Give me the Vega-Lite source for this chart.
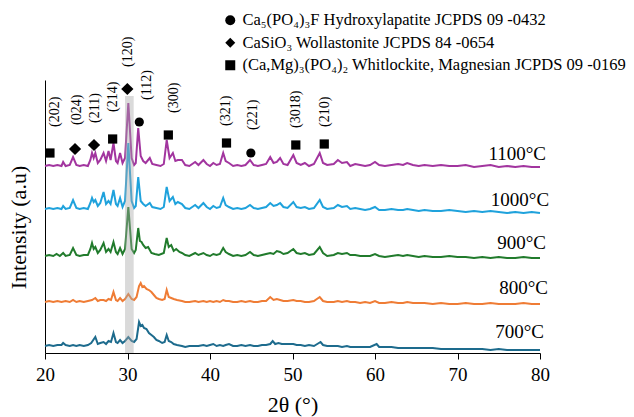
{
"$schema":"https://vega.github.io/schema/vega-lite/v6.json",
"width":495,"height":273,
"autosize":{"type":"none"},
"padding":{"left":45,"top":80,"right":94,"bottom":64},
"background":"white",
"config":{"view":{"stroke":null},"axis":{"grid":false}},
"datasets":{
"xrd":[
{"s":"1100","x":20.0,"y":187},{"s":"1100","x":20.5,"y":188},{"s":"1100","x":21.0,"y":187},{"s":"1100","x":21.5,"y":188},{"s":"1100","x":22.0,"y":187},{"s":"1100","x":22.2,"y":191},{"s":"1100","x":22.5,"y":187},{"s":"1100","x":23.0,"y":188},{"s":"1100","x":23.4,"y":196},{"s":"1100","x":23.8,"y":188},{"s":"1100","x":24.2,"y":187},{"s":"1100","x":24.7,"y":188},{"s":"1100","x":25.2,"y":187},{"s":"1100","x":25.5,"y":193},{"s":"1100","x":25.7,"y":200},{"s":"1100","x":25.9,"y":195},{"s":"1100","x":26.1,"y":200},{"s":"1100","x":26.4,"y":190},{"s":"1100","x":26.7,"y":193},{"s":"1100","x":27.1,"y":200},{"s":"1100","x":27.4,"y":192},{"s":"1100","x":27.7,"y":202},{"s":"1100","x":27.95,"y":193},{"s":"1100","x":28.3,"y":210},{"s":"1100","x":28.6,"y":192},{"s":"1100","x":28.8,"y":190},{"s":"1100","x":29.1,"y":200},{"s":"1100","x":29.4,"y":190},{"s":"1100","x":29.7,"y":195},{"s":"1100","x":30.1,"y":250},{"s":"1100","x":30.5,"y":195},{"s":"1100","x":30.8,"y":188},{"s":"1100","x":31.0,"y":190},{"s":"1100","x":31.3,"y":225},{"s":"1100","x":31.6,"y":197},{"s":"1100","x":31.9,"y":192},{"s":"1100","x":32.2,"y":190},{"s":"1100","x":32.7,"y":195},{"s":"1100","x":33.0,"y":189},{"s":"1100","x":33.5,"y":188},{"s":"1100","x":34.0,"y":187},{"s":"1100","x":34.4,"y":189},{"s":"1100","x":34.75,"y":213},{"s":"1100","x":35.1,"y":195},{"s":"1100","x":35.5,"y":200},{"s":"1100","x":35.8,"y":192},{"s":"1100","x":36.1,"y":193},{"s":"1100","x":36.6,"y":193},{"s":"1100","x":37.0,"y":188},{"s":"1100","x":37.5,"y":187},{"s":"1100","x":38.2,"y":191},{"s":"1100","x":38.6,"y":188},{"s":"1100","x":39.2,"y":193},{"s":"1100","x":39.6,"y":189},{"s":"1100","x":40.0,"y":187},{"s":"1100","x":40.4,"y":190},{"s":"1100","x":40.8,"y":188},{"s":"1100","x":41.2,"y":189},{"s":"1100","x":41.6,"y":200},{"s":"1100","x":41.9,"y":192},{"s":"1100","x":42.3,"y":190},{"s":"1100","x":42.8,"y":187},{"s":"1100","x":43.3,"y":188},{"s":"1100","x":43.8,"y":187},{"s":"1100","x":44.3,"y":188},{"s":"1100","x":44.85,"y":193},{"s":"1100","x":45.3,"y":188},{"s":"1100","x":45.8,"y":187},{"s":"1100","x":46.3,"y":188},{"s":"1100","x":46.8,"y":189},{"s":"1100","x":47.3,"y":196},{"s":"1100","x":47.7,"y":190},{"s":"1100","x":48.1,"y":191},{"s":"1100","x":48.5,"y":195},{"s":"1100","x":48.9,"y":189},{"s":"1100","x":49.4,"y":188},{"s":"1100","x":50.1,"y":198},{"s":"1100","x":50.5,"y":190},{"s":"1100","x":51.0,"y":188},{"s":"1100","x":51.5,"y":190},{"s":"1100","x":52.0,"y":187},{"s":"1100","x":52.6,"y":189},{"s":"1100","x":53.3,"y":200},{"s":"1100","x":53.7,"y":190},{"s":"1100","x":54.2,"y":188},{"s":"1100","x":55.0,"y":189},{"s":"1100","x":55.5,"y":193},{"s":"1100","x":56.0,"y":190},{"s":"1100","x":56.6,"y":191},{"s":"1100","x":57.0,"y":187},{"s":"1100","x":57.6,"y":189},{"s":"1100","x":58.2,"y":188},{"s":"1100","x":58.8,"y":187},{"s":"1100","x":59.4,"y":188},{"s":"1100","x":60.0,"y":191},{"s":"1100","x":60.5,"y":188},{"s":"1100","x":61.2,"y":187},{"s":"1100","x":62.0,"y":188},{"s":"1100","x":62.8,"y":189},{"s":"1100","x":63.4,"y":188},{"s":"1100","x":63.9,"y":190},{"s":"1100","x":64.6,"y":188},{"s":"1100","x":65.3,"y":187},{"s":"1100","x":66.0,"y":188},{"s":"1100","x":67.0,"y":187},{"s":"1100","x":68.0,"y":188},{"s":"1100","x":69.0,"y":187},{"s":"1100","x":70.0,"y":187},{"s":"1100","x":71.0,"y":188},{"s":"1100","x":72.0,"y":186},{"s":"1100","x":73.0,"y":187},{"s":"1100","x":74.0,"y":188},{"s":"1100","x":75.0,"y":186},{"s":"1100","x":76.0,"y":187},{"s":"1100","x":77.0,"y":186},{"s":"1100","x":78.0,"y":187},{"s":"1100","x":79.0,"y":186},{"s":"1100","x":80.0,"y":186},
{"s":"1000","x":20.0,"y":144},{"s":"1000","x":20.5,"y":145},{"s":"1000","x":21.0,"y":144},{"s":"1000","x":21.5,"y":145},{"s":"1000","x":22.0,"y":144},{"s":"1000","x":22.2,"y":147},{"s":"1000","x":22.5,"y":144},{"s":"1000","x":23.0,"y":145},{"s":"1000","x":23.4,"y":153},{"s":"1000","x":23.8,"y":145},{"s":"1000","x":24.2,"y":144},{"s":"1000","x":24.7,"y":145},{"s":"1000","x":25.2,"y":144},{"s":"1000","x":25.5,"y":150},{"s":"1000","x":25.7,"y":155},{"s":"1000","x":25.9,"y":151},{"s":"1000","x":26.1,"y":153},{"s":"1000","x":26.4,"y":147},{"s":"1000","x":26.7,"y":150},{"s":"1000","x":27.1,"y":161},{"s":"1000","x":27.4,"y":149},{"s":"1000","x":27.7,"y":152},{"s":"1000","x":27.95,"y":149},{"s":"1000","x":28.3,"y":163},{"s":"1000","x":28.6,"y":149},{"s":"1000","x":28.8,"y":147},{"s":"1000","x":29.1,"y":155},{"s":"1000","x":29.4,"y":146},{"s":"1000","x":29.7,"y":152},{"s":"1000","x":30.1,"y":210},{"s":"1000","x":30.5,"y":152},{"s":"1000","x":30.8,"y":145},{"s":"1000","x":31.0,"y":147},{"s":"1000","x":31.3,"y":176},{"s":"1000","x":31.6,"y":152},{"s":"1000","x":31.9,"y":149},{"s":"1000","x":32.2,"y":147},{"s":"1000","x":32.7,"y":150},{"s":"1000","x":33.0,"y":146},{"s":"1000","x":33.5,"y":145},{"s":"1000","x":34.0,"y":144},{"s":"1000","x":34.4,"y":146},{"s":"1000","x":34.75,"y":166},{"s":"1000","x":35.1,"y":152},{"s":"1000","x":35.5,"y":156},{"s":"1000","x":35.8,"y":149},{"s":"1000","x":36.1,"y":151},{"s":"1000","x":36.6,"y":149},{"s":"1000","x":37.0,"y":145},{"s":"1000","x":37.5,"y":144},{"s":"1000","x":38.2,"y":148},{"s":"1000","x":38.6,"y":145},{"s":"1000","x":39.2,"y":150},{"s":"1000","x":39.6,"y":146},{"s":"1000","x":40.0,"y":144},{"s":"1000","x":40.4,"y":147},{"s":"1000","x":40.8,"y":145},{"s":"1000","x":41.2,"y":146},{"s":"1000","x":41.6,"y":155},{"s":"1000","x":41.9,"y":148},{"s":"1000","x":42.3,"y":146},{"s":"1000","x":42.8,"y":144},{"s":"1000","x":43.3,"y":145},{"s":"1000","x":43.8,"y":144},{"s":"1000","x":44.3,"y":145},{"s":"1000","x":44.85,"y":148},{"s":"1000","x":45.3,"y":145},{"s":"1000","x":45.8,"y":144},{"s":"1000","x":46.3,"y":145},{"s":"1000","x":46.8,"y":146},{"s":"1000","x":47.3,"y":150},{"s":"1000","x":47.7,"y":147},{"s":"1000","x":48.1,"y":148},{"s":"1000","x":48.5,"y":150},{"s":"1000","x":48.9,"y":146},{"s":"1000","x":49.4,"y":145},{"s":"1000","x":50.1,"y":151},{"s":"1000","x":50.5,"y":146},{"s":"1000","x":51.0,"y":145},{"s":"1000","x":51.5,"y":146},{"s":"1000","x":52.0,"y":144},{"s":"1000","x":52.6,"y":145},{"s":"1000","x":53.3,"y":153},{"s":"1000","x":53.7,"y":146},{"s":"1000","x":54.2,"y":144},{"s":"1000","x":55.0,"y":145},{"s":"1000","x":55.5,"y":148},{"s":"1000","x":56.0,"y":146},{"s":"1000","x":56.6,"y":147},{"s":"1000","x":57.0,"y":144},{"s":"1000","x":57.6,"y":145},{"s":"1000","x":58.2,"y":144},{"s":"1000","x":58.8,"y":143},{"s":"1000","x":59.4,"y":144},{"s":"1000","x":60.0,"y":146},{"s":"1000","x":60.5,"y":143},{"s":"1000","x":61.2,"y":143},{"s":"1000","x":62.0,"y":144},{"s":"1000","x":62.8,"y":143},{"s":"1000","x":63.4,"y":143},{"s":"1000","x":63.9,"y":144},{"s":"1000","x":64.6,"y":143},{"s":"1000","x":65.3,"y":142},{"s":"1000","x":66.0,"y":143},{"s":"1000","x":67.0,"y":142},{"s":"1000","x":68.0,"y":142},{"s":"1000","x":69.0,"y":143},{"s":"1000","x":70.0,"y":142},{"s":"1000","x":71.0,"y":141},{"s":"1000","x":72.0,"y":142},{"s":"1000","x":73.0,"y":141},{"s":"1000","x":74.0,"y":142},{"s":"1000","x":75.0,"y":141},{"s":"1000","x":76.0,"y":140},{"s":"1000","x":77.0,"y":141},{"s":"1000","x":78.0,"y":140},{"s":"1000","x":79.0,"y":141},{"s":"1000","x":80.0,"y":140},
{"s":"900","x":20.0,"y":97},{"s":"900","x":20.5,"y":98},{"s":"900","x":21.0,"y":97},{"s":"900","x":21.4,"y":99},{"s":"900","x":21.8,"y":97},{"s":"900","x":22.2,"y":100},{"s":"900","x":22.5,"y":97},{"s":"900","x":23.0,"y":98},{"s":"900","x":23.4,"y":105},{"s":"900","x":23.8,"y":98},{"s":"900","x":24.2,"y":97},{"s":"900","x":24.7,"y":98},{"s":"900","x":25.2,"y":98},{"s":"900","x":25.5,"y":104},{"s":"900","x":25.7,"y":110},{"s":"900","x":25.9,"y":104},{"s":"900","x":26.1,"y":106},{"s":"900","x":26.4,"y":100},{"s":"900","x":26.7,"y":103},{"s":"900","x":27.1,"y":110},{"s":"900","x":27.4,"y":101},{"s":"900","x":27.7,"y":104},{"s":"900","x":27.95,"y":101},{"s":"900","x":28.3,"y":111},{"s":"900","x":28.6,"y":101},{"s":"900","x":28.8,"y":99},{"s":"900","x":29.1,"y":105},{"s":"900","x":29.4,"y":99},{"s":"900","x":29.7,"y":104},{"s":"900","x":30.1,"y":146},{"s":"900","x":30.5,"y":104},{"s":"900","x":30.8,"y":100},{"s":"900","x":31.0,"y":103},{"s":"900","x":31.3,"y":125},{"s":"900","x":31.5,"y":112},{"s":"900","x":31.7,"y":111},{"s":"900","x":31.9,"y":108},{"s":"900","x":32.2,"y":105},{"s":"900","x":32.5,"y":106},{"s":"900","x":32.9,"y":100},{"s":"900","x":33.3,"y":99},{"s":"900","x":33.8,"y":98},{"s":"900","x":34.4,"y":100},{"s":"900","x":34.75,"y":115},{"s":"900","x":35.0,"y":106},{"s":"900","x":35.3,"y":108},{"s":"900","x":35.6,"y":102},{"s":"900","x":35.9,"y":104},{"s":"900","x":36.3,"y":101},{"s":"900","x":36.6,"y":100},{"s":"900","x":37.0,"y":98},{"s":"900","x":37.5,"y":97},{"s":"900","x":38.2,"y":100},{"s":"900","x":38.6,"y":98},{"s":"900","x":39.2,"y":100},{"s":"900","x":39.6,"y":98},{"s":"900","x":40.0,"y":97},{"s":"900","x":40.4,"y":99},{"s":"900","x":40.8,"y":98},{"s":"900","x":41.2,"y":99},{"s":"900","x":41.6,"y":105},{"s":"900","x":41.9,"y":101},{"s":"900","x":42.3,"y":99},{"s":"900","x":42.8,"y":97},{"s":"900","x":43.3,"y":98},{"s":"900","x":43.8,"y":97},{"s":"900","x":44.3,"y":98},{"s":"900","x":44.85,"y":101},{"s":"900","x":45.3,"y":98},{"s":"900","x":45.8,"y":97},{"s":"900","x":46.3,"y":98},{"s":"900","x":46.8,"y":99},{"s":"900","x":47.3,"y":100},{"s":"900","x":47.7,"y":99},{"s":"900","x":48.1,"y":102},{"s":"900","x":48.5,"y":101},{"s":"900","x":48.9,"y":99},{"s":"900","x":49.4,"y":100},{"s":"900","x":50.1,"y":104},{"s":"900","x":50.5,"y":100},{"s":"900","x":51.0,"y":99},{"s":"900","x":51.5,"y":100},{"s":"900","x":52.0,"y":98},{"s":"900","x":52.6,"y":99},{"s":"900","x":53.3,"y":106},{"s":"900","x":53.7,"y":100},{"s":"900","x":54.2,"y":97},{"s":"900","x":55.0,"y":98},{"s":"900","x":55.5,"y":100},{"s":"900","x":56.0,"y":99},{"s":"900","x":56.6,"y":100},{"s":"900","x":57.0,"y":98},{"s":"900","x":57.6,"y":98},{"s":"900","x":58.2,"y":97},{"s":"900","x":58.8,"y":97},{"s":"900","x":59.4,"y":97},{"s":"900","x":60.0,"y":99},{"s":"900","x":60.5,"y":97},{"s":"900","x":61.2,"y":96},{"s":"900","x":62.0,"y":97},{"s":"900","x":62.8,"y":98},{"s":"900","x":63.4,"y":97},{"s":"900","x":63.9,"y":98},{"s":"900","x":64.6,"y":97},{"s":"900","x":65.3,"y":96},{"s":"900","x":66.0,"y":97},{"s":"900","x":67.0,"y":96},{"s":"900","x":68.0,"y":96},{"s":"900","x":69.0,"y":97},{"s":"900","x":70.0,"y":96},{"s":"900","x":71.0,"y":96},{"s":"900","x":72.0,"y":95},{"s":"900","x":73.0,"y":96},{"s":"900","x":74.0,"y":95},{"s":"900","x":75.0,"y":96},{"s":"900","x":76.0,"y":95},{"s":"900","x":77.0,"y":95},{"s":"900","x":78.0,"y":96},{"s":"900","x":79.0,"y":95},{"s":"900","x":80.0,"y":95},
{"s":"800","x":20.0,"y":51},{"s":"800","x":20.5,"y":52},{"s":"800","x":21.0,"y":51},{"s":"800","x":21.5,"y":52},{"s":"800","x":22.0,"y":51},{"s":"800","x":22.5,"y":52},{"s":"800","x":23.0,"y":51},{"s":"800","x":23.4,"y":53},{"s":"800","x":23.8,"y":51},{"s":"800","x":24.2,"y":52},{"s":"800","x":24.7,"y":51},{"s":"800","x":25.2,"y":52},{"s":"800","x":25.7,"y":53},{"s":"800","x":26.1,"y":55},{"s":"800","x":26.4,"y":52},{"s":"800","x":26.7,"y":53},{"s":"800","x":27.1,"y":53},{"s":"800","x":27.4,"y":52},{"s":"800","x":27.7,"y":54},{"s":"800","x":28.0,"y":53},{"s":"800","x":28.3,"y":61},{"s":"800","x":28.6,"y":53},{"s":"800","x":28.8,"y":52},{"s":"800","x":29.1,"y":55},{"s":"800","x":29.4,"y":52},{"s":"800","x":29.7,"y":54},{"s":"800","x":30.1,"y":59},{"s":"800","x":30.5,"y":54},{"s":"800","x":30.8,"y":53},{"s":"800","x":31.1,"y":56},{"s":"800","x":31.4,"y":67},{"s":"800","x":31.6,"y":70},{"s":"800","x":31.8,"y":66},{"s":"800","x":32.0,"y":67},{"s":"800","x":32.3,"y":64},{"s":"800","x":32.6,"y":63},{"s":"800","x":32.9,"y":61},{"s":"800","x":33.2,"y":58},{"s":"800","x":33.5,"y":55},{"s":"800","x":33.8,"y":54},{"s":"800","x":34.2,"y":53},{"s":"800","x":34.5,"y":54},{"s":"800","x":34.75,"y":63},{"s":"800","x":35.0,"y":56},{"s":"800","x":35.3,"y":55},{"s":"800","x":35.6,"y":54},{"s":"800","x":36.0,"y":53},{"s":"800","x":36.6,"y":52},{"s":"800","x":37.0,"y":51},{"s":"800","x":37.5,"y":51},{"s":"800","x":38.2,"y":52},{"s":"800","x":38.6,"y":51},{"s":"800","x":39.2,"y":52},{"s":"800","x":39.6,"y":51},{"s":"800","x":40.0,"y":52},{"s":"800","x":40.4,"y":51},{"s":"800","x":40.8,"y":52},{"s":"800","x":41.2,"y":51},{"s":"800","x":41.6,"y":53},{"s":"800","x":41.9,"y":52},{"s":"800","x":42.3,"y":52},{"s":"800","x":42.8,"y":51},{"s":"800","x":43.3,"y":51},{"s":"800","x":43.8,"y":52},{"s":"800","x":44.3,"y":51},{"s":"800","x":44.85,"y":52},{"s":"800","x":45.3,"y":51},{"s":"800","x":45.8,"y":51},{"s":"800","x":46.3,"y":52},{"s":"800","x":46.8,"y":52},{"s":"800","x":47.3,"y":56},{"s":"800","x":47.7,"y":53},{"s":"800","x":48.1,"y":54},{"s":"800","x":48.5,"y":53},{"s":"800","x":48.9,"y":52},{"s":"800","x":49.4,"y":52},{"s":"800","x":50.1,"y":53},{"s":"800","x":50.5,"y":52},{"s":"800","x":51.0,"y":52},{"s":"800","x":51.5,"y":51},{"s":"800","x":52.0,"y":51},{"s":"800","x":52.6,"y":52},{"s":"800","x":53.3,"y":56},{"s":"800","x":53.7,"y":52},{"s":"800","x":54.2,"y":51},{"s":"800","x":55.0,"y":51},{"s":"800","x":55.5,"y":52},{"s":"800","x":56.0,"y":51},{"s":"800","x":56.6,"y":52},{"s":"800","x":57.0,"y":51},{"s":"800","x":57.6,"y":51},{"s":"800","x":58.2,"y":50},{"s":"800","x":58.8,"y":51},{"s":"800","x":59.4,"y":50},{"s":"800","x":60.0,"y":52},{"s":"800","x":60.5,"y":50},{"s":"800","x":61.2,"y":50},{"s":"800","x":62.0,"y":51},{"s":"800","x":62.8,"y":50},{"s":"800","x":63.4,"y":50},{"s":"800","x":63.9,"y":51},{"s":"800","x":64.6,"y":50},{"s":"800","x":65.3,"y":50},{"s":"800","x":66.0,"y":50},{"s":"800","x":67.0,"y":49},{"s":"800","x":68.0,"y":50},{"s":"800","x":69.0,"y":49},{"s":"800","x":70.0,"y":49},{"s":"800","x":71.0,"y":50},{"s":"800","x":72.0,"y":49},{"s":"800","x":73.0,"y":49},{"s":"800","x":74.0,"y":50},{"s":"800","x":75.0,"y":49},{"s":"800","x":76.0,"y":49},{"s":"800","x":77.0,"y":49},{"s":"800","x":78.0,"y":50},{"s":"800","x":79.0,"y":49},{"s":"800","x":80.0,"y":49},
{"s":"700","x":20.0,"y":7},{"s":"700","x":20.5,"y":8},{"s":"700","x":21.0,"y":7},{"s":"700","x":21.5,"y":8},{"s":"700","x":22.0,"y":8},{"s":"700","x":22.2,"y":10},{"s":"700","x":22.5,"y":8},{"s":"700","x":23.0,"y":7},{"s":"700","x":23.4,"y":8},{"s":"700","x":23.8,"y":7},{"s":"700","x":24.2,"y":8},{"s":"700","x":24.7,"y":7},{"s":"700","x":25.2,"y":8},{"s":"700","x":25.6,"y":10},{"s":"700","x":26.1,"y":16},{"s":"700","x":26.4,"y":9},{"s":"700","x":26.7,"y":10},{"s":"700","x":27.1,"y":11},{"s":"700","x":27.4,"y":9},{"s":"700","x":27.7,"y":12},{"s":"700","x":28.0,"y":11},{"s":"700","x":28.3,"y":20},{"s":"700","x":28.6,"y":11},{"s":"700","x":28.8,"y":10},{"s":"700","x":29.1,"y":13},{"s":"700","x":29.4,"y":10},{"s":"700","x":29.7,"y":12},{"s":"700","x":30.1,"y":16},{"s":"700","x":30.5,"y":12},{"s":"700","x":30.8,"y":11},{"s":"700","x":31.1,"y":14},{"s":"700","x":31.4,"y":31},{"s":"700","x":31.6,"y":27},{"s":"700","x":31.8,"y":28},{"s":"700","x":32.0,"y":25},{"s":"700","x":32.3,"y":24},{"s":"700","x":32.6,"y":20},{"s":"700","x":32.9,"y":18},{"s":"700","x":33.2,"y":16},{"s":"700","x":33.5,"y":13},{"s":"700","x":33.8,"y":12},{"s":"700","x":34.2,"y":10},{"s":"700","x":34.5,"y":11},{"s":"700","x":34.75,"y":18},{"s":"700","x":35.0,"y":12},{"s":"700","x":35.3,"y":11},{"s":"700","x":35.6,"y":9},{"s":"700","x":36.0,"y":8},{"s":"700","x":36.6,"y":7},{"s":"700","x":37.0,"y":6},{"s":"700","x":37.5,"y":7},{"s":"700","x":38.2,"y":7},{"s":"700","x":38.6,"y":7},{"s":"700","x":39.2,"y":8},{"s":"700","x":39.6,"y":7},{"s":"700","x":40.0,"y":8},{"s":"700","x":40.4,"y":9},{"s":"700","x":40.8,"y":7},{"s":"700","x":41.2,"y":8},{"s":"700","x":41.6,"y":7},{"s":"700","x":41.9,"y":8},{"s":"700","x":42.3,"y":9},{"s":"700","x":42.8,"y":7},{"s":"700","x":43.3,"y":7},{"s":"700","x":43.8,"y":8},{"s":"700","x":44.3,"y":7},{"s":"700","x":44.85,"y":8},{"s":"700","x":45.3,"y":7},{"s":"700","x":45.8,"y":7},{"s":"700","x":46.3,"y":8},{"s":"700","x":46.8,"y":8},{"s":"700","x":47.3,"y":9},{"s":"700","x":47.6,"y":12},{"s":"700","x":47.9,"y":9},{"s":"700","x":48.3,"y":10},{"s":"700","x":48.7,"y":9},{"s":"700","x":49.2,"y":9},{"s":"700","x":50.1,"y":9},{"s":"700","x":50.5,"y":8},{"s":"700","x":51.0,"y":8},{"s":"700","x":51.5,"y":7},{"s":"700","x":52.0,"y":8},{"s":"700","x":52.6,"y":7},{"s":"700","x":53.4,"y":11},{"s":"700","x":53.7,"y":8},{"s":"700","x":54.2,"y":7},{"s":"700","x":55.0,"y":7},{"s":"700","x":55.5,"y":7},{"s":"700","x":56.0,"y":6},{"s":"700","x":56.6,"y":7},{"s":"700","x":57.0,"y":6},{"s":"700","x":57.6,"y":6},{"s":"700","x":58.2,"y":6},{"s":"700","x":58.8,"y":6},{"s":"700","x":59.4,"y":6},{"s":"700","x":60.2,"y":9},{"s":"700","x":60.5,"y":6},{"s":"700","x":61.2,"y":6},{"s":"700","x":62.0,"y":6},{"s":"700","x":62.8,"y":5},{"s":"700","x":63.4,"y":5},{"s":"700","x":63.9,"y":5},{"s":"700","x":64.6,"y":5},{"s":"700","x":65.3,"y":5},{"s":"700","x":66.0,"y":5},{"s":"700","x":67.0,"y":5},{"s":"700","x":68.0,"y":4},{"s":"700","x":69.0,"y":4},{"s":"700","x":70.0,"y":4},{"s":"700","x":71.0,"y":4},{"s":"700","x":72.0,"y":4},{"s":"700","x":73.0,"y":4},{"s":"700","x":74.0,"y":3},{"s":"700","x":75.0,"y":4},{"s":"700","x":76.0,"y":3},{"s":"700","x":77.0,"y":3},{"s":"700","x":78.0,"y":3},{"s":"700","x":79.0,"y":3},{"s":"700","x":80.0,"y":3}
],
"markers":[
{"p":"(Ca,Mg)₃(PO₄)₂ Whitlockite, Magnesian JCPDS 09 -0169","x":20.6,"y":200},
{"p":"CaSiO₃ Wollastonite JCPDS 84 -0654","x":23.64,"y":204},
{"p":"CaSiO₃ Wollastonite JCPDS 84 -0654","x":25.94,"y":208},
{"p":"(Ca,Mg)₃(PO₄)₂ Whitlockite, Magnesian JCPDS 09 -0169","x":28.2,"y":214},
{"p":"CaSiO₃ Wollastonite JCPDS 84 -0654","x":29.98,"y":264},
{"p":"Ca₅(PO₄)₃F Hydroxylapatite JCPDS 09 -0432","x":31.43,"y":231},
{"p":"(Ca,Mg)₃(PO₄)₂ Whitlockite, Magnesian JCPDS 09 -0169","x":34.95,"y":218},
{"p":"(Ca,Mg)₃(PO₄)₂ Whitlockite, Magnesian JCPDS 09 -0169","x":42.0,"y":210},
{"p":"Ca₅(PO₄)₃F Hydroxylapatite JCPDS 09 -0432","x":44.95,"y":200},
{"p":"(Ca,Mg)₃(PO₄)₂ Whitlockite, Magnesian JCPDS 09 -0169","x":50.4,"y":208},
{"p":"(Ca,Mg)₃(PO₄)₂ Whitlockite, Magnesian JCPDS 09 -0169","x":53.85,"y":209}
],
"peaks":[
{"t":"(202)","x":21.2,"y":226},{"t":"(024)","x":23.88,"y":228},{"t":"(211)","x":26.12,"y":230},{"t":"(214)","x":28.24,"y":241},{"t":"(120)","x":30.12,"y":286},{"t":"(112)","x":32.42,"y":253},{"t":"(300)","x":35.64,"y":240},{"t":"(321)","x":41.94,"y":227},{"t":"(221)","x":45.25,"y":223},{"t":"(3018)","x":50.39,"y":225},{"t":"(210)","x":53.94,"y":226}
],
"temps":[
{"t":"1100°C","x":80.73,"y":199},{"t":"1000°C","x":81.1,"y":153},{"t":"900°C","x":80.73,"y":110},{"t":"800°C","x":80.97,"y":65},{"t":"700°C","x":80.48,"y":21}
],
"band":[{"x1":29.7,"x2":30.75,"y1":0,"y2":257}]
},
"layer":[
{"data":{"name":"xrd"},"mark":{"type":"line","strokeWidth":2,"clip":false},
 "encoding":{
  "x":{"field":"x","type":"quantitative","scale":{"domain":[20,80],"nice":false,"zero":false},
   "axis":{"values":[20,30,40,50,60,70,80],"title":"2θ (°)","labelFont":"serif","titleFont":"serif","labelFontSize":19,"titleFontSize":22,"titleFontWeight":"normal","labelColor":"black","titleColor":"black","domainColor":"black","tickColor":"black","tickSize":6,"labelPadding":6,"titlePadding":10,"labelFlush":false}},
  "y":{"field":"y","type":"quantitative","scale":{"domain":[0,273],"nice":false,"zero":false},
   "axis":{"labels":false,"ticks":false,"title":"Intensity (a.u)","titleFont":"serif","titleFontSize":22,"titleFontWeight":"normal","titleColor":"black","domainColor":"black","titleX":-15,"titleY":147,"titleAlign":"center","titleBaseline":"bottom"}},
  "color":{"field":"s","type":"nominal","scale":{"domain":["1100","1000","900","800","700"],"range":["#a2359f","#1fa2dc","#217b2c","#ef7c35","#1d6b8d"]},"legend":null}
 }},
{"data":{"name":"band"},"mark":{"type":"rect","color":"#a6a6a6","opacity":0.42},
 "encoding":{"x":{"field":"x1","type":"quantitative"},"x2":{"field":"x2"},"y":{"field":"y1","type":"quantitative"},"y2":{"field":"y2"}}},
{"data":{"name":"markers"},"mark":{"type":"point","filled":true,"color":"black","opacity":1,"clip":false},
 "encoding":{
  "x":{"field":"x","type":"quantitative"},
  "y":{"field":"y","type":"quantitative"},
  "shape":{"field":"p","type":"nominal","scale":{"domain":["Ca₅(PO₄)₃F Hydroxylapatite JCPDS 09 -0432","CaSiO₃ Wollastonite JCPDS 84 -0654","(Ca,Mg)₃(PO₄)₂ Whitlockite, Magnesian JCPDS 09 -0169"],"range":["circle","diamond","square"]},
   "legend":{"title":null,"orient":"none","legendX":177,"legendY":-68,"labelFont":"serif","labelFontSize":16.5,"labelColor":"black","labelLimit":0,"symbolFillColor":"black","symbolStrokeColor":"black","symbolStrokeWidth":0,"symbolSize":100,"symbolOpacity":1,"rowPadding":5.5,"labelOffset":4}},
  "size":{"condition":{"test":"datum.p === 'CaSiO₃ Wollastonite JCPDS 84 -0654'","value":150},"value":85}
 }},
{"data":{"name":"peaks"},"mark":{"type":"text","angle":270,"align":"left","baseline":"middle","font":"serif","fontSize":14,"color":"black","clip":false},
 "encoding":{"x":{"field":"x","type":"quantitative"},"y":{"field":"y","type":"quantitative"},"text":{"field":"t"}}},
{"data":{"name":"temps"},"mark":{"type":"text","align":"right","baseline":"middle","font":"serif","fontSize":19,"color":"black","clip":false},
 "encoding":{"x":{"field":"x","type":"quantitative"},"y":{"field":"y","type":"quantitative"},"text":{"field":"t"}}}
]
}
